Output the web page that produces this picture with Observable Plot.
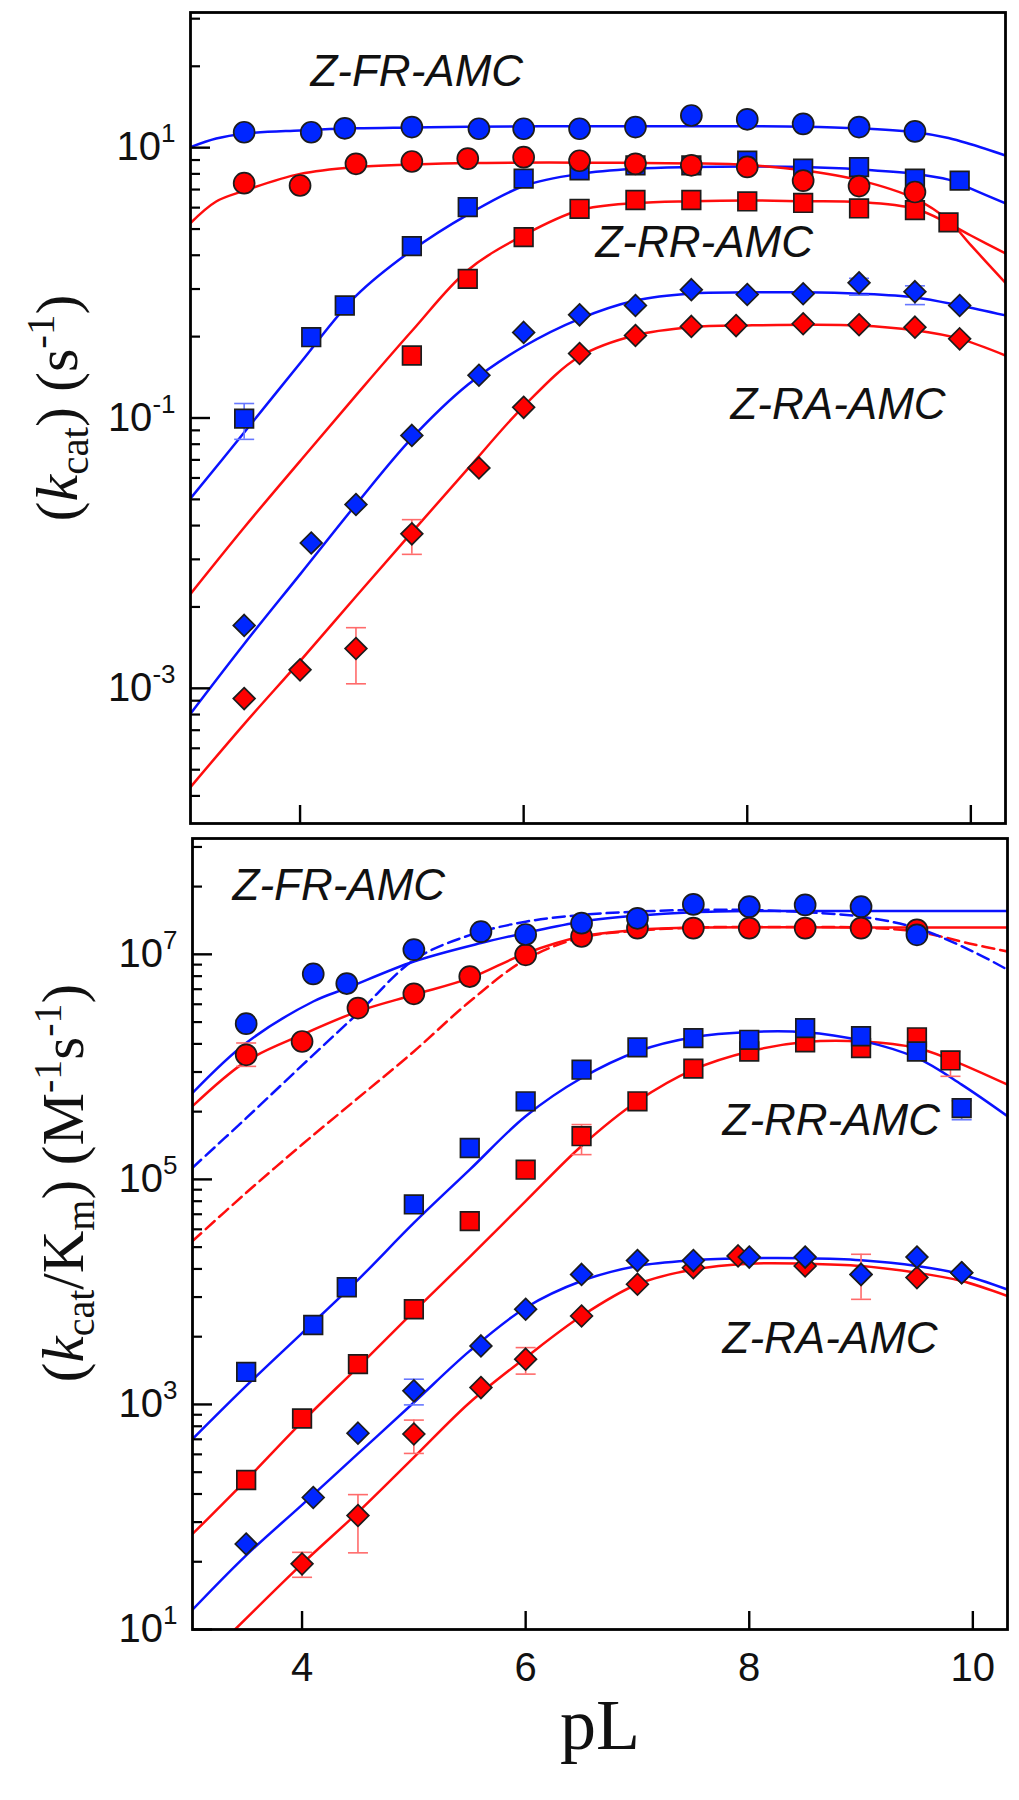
<!DOCTYPE html>
<html><head><meta charset="utf-8">
<script src="https://cdn.jsdelivr.net/npm/d3@7"></script>
<script src="https://cdn.jsdelivr.net/npm/@observablehq/plot@0.6"></script>
<style>
body{margin:0;background:#fff;}
#chart{position:relative;width:1019px;height:1800px;background:#fff;}
#chart svg{position:absolute;left:0;}
</style></head><body><div id="chart"></div>
<script>
// ---------------- DATA ----------------
const pLTicks = [4, 6, 8, 10];
const topMajorTicks = [1e-3, 1e-1, 1e1];
const topTickLabels = ["10^-3", "10^-1", "10^1"];
const topMinorBases = [1e-5, 1e-3, 1e-1, 1e1];
const botMajorTicks = [1e1, 1e3, 1e5, 1e7];
const botTickLabels = ["10^1", "10^3", "10^5", "10^7"];
const botMinorBases = [1e1, 1e3, 1e5, 1e7];
const minorMultipliers = [4, 9, 16, 25, 36, 49, 64, 81];

// Top panel: kcat (s^-1), measured points [pL, value]
const kcatFRblue = [[3.5,13.0],[4.1,13.0],[4.4,13.9],[5.0,14.2],[5.6,13.8],[6.0,13.8],[6.5,13.8],[7.0,14.2],[7.5,17.3],[8.0,16.2],[8.5,15.0],[9.0,14.2],[9.5,13.2]];
const kcatFRred  = [[3.5,5.46],[4.0,5.25],[4.5,7.6],[5.0,7.9],[5.5,8.3],[6.0,8.5],[6.5,8.0],[7.0,7.6],[7.5,7.4],[8.0,7.2],[8.5,5.7],[9.0,5.2],[9.5,4.7]];
const kcatRRblue = [[3.5,0.099],[4.1,0.396],[4.4,0.68],[5.0,1.87],[5.5,3.63],[6.0,5.9],[6.5,6.8],[7.0,7.4],[7.5,7.4],[8.0,8.0],[8.5,7.0],[9.0,7.18],[9.5,5.9],[9.9,5.7]];
const kcatRRred  = [[5.0,0.29],[5.5,1.07],[6.0,2.18],[6.5,3.53],[7.0,4.1],[7.5,4.1],[8.0,4.0],[8.5,3.9],[9.0,3.55],[9.5,3.45],[9.8,2.8]];
const kcatRAblue = [[3.5,0.00292],[4.1,0.0119],[4.5,0.0229],[5.0,0.0743],[5.6,0.207],[6.0,0.43],[6.5,0.58],[7.0,0.68],[7.5,0.89],[8.0,0.82],[8.5,0.83],[9.0,1.0],[9.5,0.86],[9.9,0.68]];
const kcatRAred  = [[3.5,0.00084],[4.0,0.00137],[4.5,0.00197],[5.0,0.0139],[5.6,0.0427],[6.0,0.12],[6.5,0.30],[7.0,0.408],[7.5,0.476],[7.9,0.483],[8.5,0.498],[9.0,0.49],[9.5,0.47],[9.9,0.385]];
// error bars [pL, low, high]
const kcatErrBlue = [[3.5,0.0695,0.128],[9.0,0.81,1.08],[9.5,0.69,0.95]];
const kcatErrRed  = [[4.5,0.00108,0.00281],[5.0,0.0098,0.0177]];
// fitted curves [pL, value]
const kcatFitFRblue = [[3.02,10.1],[3.25,11.7],[3.5,12.7],[4.0,13.4],[4.5,13.9],[5.0,14.1],[5.5,14.3],[6.5,14.4],[7.5,14.4],[8.5,14.3],[9.0,13.9],[9.5,13.0],[9.8,11.8],[10.0,10.6],[10.31,8.75]];
const kcatFitFRred  = [[3.02,2.77],[3.25,4.0],[3.5,4.8],[4.0,6.4],[4.5,7.2],[5.0,7.5],[5.5,7.7],[6.5,7.75],[7.5,7.65],[8.0,7.45],[8.5,6.8],[9.0,5.75],[9.5,4.2],[9.8,2.9],[10.0,1.9],[10.31,1.0]];
const kcatFitRRblue = [[3.02,0.0254],[3.5,0.078],[4.0,0.254],[4.5,0.8],[5.0,1.74],[5.5,3.2],[6.0,5.2],[6.5,6.4],[7.0,6.98],[7.5,7.18],[8.0,7.25],[8.5,7.18],[9.0,6.9],[9.5,6.4],[9.8,5.8],[10.0,4.97],[10.31,3.87]];
const kcatFitRRred  = [[3.02,0.005],[3.5,0.0155],[4.0,0.048],[4.5,0.147],[5.0,0.44],[5.5,1.24],[6.0,2.25],[6.5,3.44],[7.0,3.89],[7.5,4.02],[8.0,4.07],[8.5,4.02],[9.0,3.96],[9.5,3.53],[9.8,2.75],[10.0,2.24],[10.31,1.65]];
const kcatFitRAblue = [[3.02,0.00065],[3.5,0.00213],[4.0,0.00697],[4.5,0.0229],[5.0,0.071],[5.5,0.176],[6.0,0.338],[6.5,0.542],[7.0,0.74],[7.5,0.835],[8.0,0.85],[8.5,0.85],[9.0,0.83],[9.5,0.78],[9.9,0.68],[10.31,0.574]];
const kcatFitRAred  = [[3.02,0.000186],[3.5,0.000544],[4.0,0.00159],[4.5,0.00478],[5.0,0.01426],[5.5,0.042],[6.0,0.122],[6.5,0.285],[7.0,0.41],[7.5,0.47],[8.0,0.484],[9.0,0.484],[9.5,0.445],[9.9,0.385],[10.31,0.29]];

// Bottom panel: kcat/Km (M^-1 s^-1)
const effFRblue = [[3.5,2.42e6],[4.1,6.7e6],[4.4,5.5e6],[5.0,1.1e7],[5.6,1.59e7],[6.0,1.5e7],[6.5,1.89e7],[7.0,2.09e7],[7.5,2.78e7],[8.0,2.65e7],[8.5,2.75e7],[9.0,2.65e7],[9.5,1.49e7]];
const effFRred  = [[3.5,1.28e6],[4.0,1.68e6],[4.5,3.33e6],[5.0,4.46e6],[5.5,6.35e6],[6.0,9.9e6],[6.5,1.44e7],[7.0,1.71e7],[7.5,1.71e7],[8.0,1.71e7],[8.5,1.71e7],[9.0,1.71e7],[9.5,1.65e7]];
const effRRblue = [[3.5,1945],[4.1,5080],[4.4,1.1e4],[5.0,5.99e4],[5.5,1.9e5],[6.0,4.94e5],[6.5,9.44e5],[7.0,1.49e6],[7.5,1.8e6],[8.0,1.74e6],[8.5,2.21e6],[9.0,1.87e6],[9.5,1.37e6],[9.9,4.3e5]];
const effRRred  = [[3.5,213],[4.0,750],[4.5,2280],[5.0,7010],[5.5,4.26e4],[6.0,1.22e5],[6.5,2.42e5],[7.0,4.94e5],[7.5,9.64e5],[8.0,1.37e6],[8.5,1.65e6],[9.0,1.47e6],[9.5,1.83e6],[9.8,1.14e6]];
const effRAblue = [[3.5,57.5],[4.1,149],[4.5,556],[5.0,1321],[5.6,3310],[6.0,7020],[6.5,1.43e4],[7.0,1.9e4],[7.5,1.9e4],[8.0,2.04e4],[8.5,2.04e4],[9.0,1.43e4],[9.5,2.04e4],[9.9,1.48e4]];
const effRAred  = [[4.0,38.3],[4.5,103],[5.0,546],[5.6,1412],[6.0,2525],[6.5,6110],[7.0,1.17e4],[7.5,1.64e4],[7.9,2.09e4],[8.5,1.7e4],[9.0,1.43e4],[9.5,1.34e4],[9.9,1.48e4]];
const effErrBlue = [[9.9,3.39e5,5.0e5],[5.0,991,1676]];
const effErrRed  = [[3.5,1.01e6,1.63e6],[6.5,1.66e5,3.07e5],[9.8,8.24e5,1.37e6],[4.0,29.1,48.5],[4.5,48,158],[5.0,367,726],[6.0,1860,3200],[9.0,8590,2.16e4]];
const effFitFRblue = [[3.02,5.86e5],[3.5,1.63e6],[4.1,3.81e6],[4.4,5.0e6],[5.0,8.63e6],[5.6,1.26e7],[6.0,1.55e7],[6.5,1.95e7],[7.0,2.21e7],[7.5,2.37e7],[8.0,2.43e7],[9.0,2.43e7],[10.31,2.43e7]];
const effFitFRblueDash = [[3.02,1.27e5],[3.5,3.5e5],[4.0,1.03e6],[4.5,3.0e6],[5.0,8.9e6],[5.5,1.48e7],[6.0,1.95e7],[6.5,2.24e7],[7.0,2.4e7],[7.5,2.48e7],[8.0,2.48e7],[8.5,2.37e7],[9.0,2.16e7],[9.5,1.71e7],[10.0,1.06e7],[10.31,7.3e6]];
const effFitFRred = [[3.02,4.47e5],[3.5,1.12e6],[4.0,1.93e6],[4.5,3.11e6],[5.0,4.37e6],[5.5,6.14e6],[6.0,1.02e7],[6.5,1.44e7],[7.0,1.65e7],[7.5,1.73e7],[9.0,1.73e7],[10.31,1.73e7]];
const effFitFRredDash = [[3.02,2.83e4],[3.5,7.6e4],[4.0,2.04e5],[4.5,5.28e5],[5.0,1.37e6],[5.5,3.81e6],[6.0,9.0e6],[6.5,1.41e7],[7.0,1.62e7],[7.5,1.73e7],[8.0,1.75e7],[8.5,1.75e7],[9.0,1.73e7],[9.5,1.59e7],[10.0,1.23e7],[10.31,1.06e7]];
const effFitRRblue = [[3.02,492],[3.5,1460],[4.0,4310],[4.5,1.28e4],[5.0,4.1e4],[5.5,1.22e5],[6.0,3.64e5],[6.5,7.96e5],[7.0,1.37e6],[7.5,1.83e6],[8.0,2.04e6],[8.5,2.03e6],[9.0,1.71e6],[9.5,1.2e6],[9.9,6.95e5],[10.31,3.64e5]];
const effFitRRred = [[3.02,70.6],[3.5,213],[4.0,700],[4.5,2150],[5.0,6700],[5.5,2.05e4],[6.0,6.4e4],[6.5,1.98e5],[7.0,4.94e5],[7.5,9.44e5],[8.0,1.37e6],[8.5,1.66e6],[9.0,1.68e6],[9.5,1.47e6],[9.8,1.16e6],[10.31,6.95e5]];
const effFitRAblue = [[3.02,15],[3.5,45.6],[4.0,128],[4.5,365],[5.0,1040],[5.5,2990],[6.0,7240],[6.5,1.25e4],[7.0,1.7e4],[7.5,1.91e4],[8.0,1.99e4],[8.5,1.99e4],[9.0,1.91e4],[9.5,1.7e4],[9.9,1.43e4],[10.31,1.05e4]];
const effFitRAred = [[3.4,10],[4.0,38.3],[4.5,110],[5.0,338],[5.5,1040],[6.0,2610],[6.5,6110],[7.0,1.17e4],[7.5,1.58e4],[8.0,1.78e4],[8.5,1.78e4],[9.0,1.7e4],[9.5,1.48e4],[9.9,1.25e4],[10.31,9200]];

// annotations [text, pL, value]
const topAnnotations = [["Z-FR-AMC",4.093,28.8],["Z-RR-AMC",6.642,1.54],["Z-RA-AMC",7.85,0.0991]];
const botAnnotations = [["Z-FR-AMC",3.378,3.01e7],["Z-RR-AMC",7.761,2.46e5],["Z-RA-AMC",7.761,2838]];
const topTitle = "(kcat) (s-1)";
const botTitle = "(kcat/Km) (M-1s-1)";
const xTitle = "pL";

// ---------------- STYLE ----------------
const W = 1019;
const BLUE = "#0026ff", RED = "#ff0000";
const BLUE_LINE = "#0a12ff", RED_LINE = "#ff0d0d";
const BLUE_ERR = "#6677ff", RED_ERR = "#ff6b6b";
const SANS = "Liberation Sans, Arial, Helvetica, sans-serif";
const SERIF = "Liberation Serif, Times New Roman, serif";
const R = {circle: 10.5, square: 10.5, diamond2: 9.8};
const CAP = {draw(ctx, size) { const w = Math.sqrt(size / Math.PI); ctx.moveTo(-w, 0); ctx.lineTo(w, 0); }};
const X_DOMAIN = [3.02, 10.31];

function buildPanel(cfg) {
  const fw = W - cfg.ml - cfg.mr;
  const fh = cfg.h - cfg.mt - cfg.mb;
  const minors = cfg.minorBases.flatMap(b => minorMultipliers.map(m => b * m))
    .filter(v => v > cfg.yDomain[0] * 1.0001 && v < cfg.yDomain[1]);
  const marks = [];
  for (const c of cfg.curves) {
    marks.push(Plot.line(c.data, {x: d => d[0], y: d => d[1], stroke: c.color, strokeWidth: 2.5,
      strokeDasharray: c.dash || null, curve: "catmull-rom", clip: true}));
  }
  for (const e of cfg.errors) {
    marks.push(Plot.ruleX(e.data, {x: d => d[0], y1: d => d[1], y2: d => d[2], stroke: e.color, strokeWidth: 1.6}));
    marks.push(Plot.dot(e.data, {x: d => d[0], y: d => d[1], symbol: CAP, r: 10, stroke: e.color, strokeWidth: 1.6, fill: "none"}));
    marks.push(Plot.dot(e.data, {x: d => d[0], y: d => d[2], symbol: CAP, r: 10, stroke: e.color, strokeWidth: 1.6, fill: "none"}));
  }
  for (const p of cfg.points) {
    marks.push(Plot.dot(p.data, {x: d => d[0], y: d => d[1], symbol: p.symbol, r: R[p.symbol],
      fill: p.color, stroke: "#1c1c1c", strokeWidth: 1.7}));
  }
  marks.push(Plot.tickY(cfg.majors, {y: d => d, insetRight: fw - 20, stroke: "#000", strokeWidth: 2.4}));
  marks.push(Plot.tickY(minors, {y: d => d, insetRight: fw - 10, stroke: "#000", strokeWidth: 2.2}));
  marks.push(Plot.tickX(pLTicks, {x: d => d, insetTop: fh - 18, stroke: "#000", strokeWidth: 2.4}));
  marks.push(Plot.frame({stroke: "#000", strokeWidth: 2.8}));
  marks.push(Plot.text(cfg.majors, {y: d => d, text: (d, i) => cfg.tickLabels[i], frameAnchor: "left", dx: -15,
    textAnchor: "end", fontSize: 40, fontFamily: SANS, fill: "#111"}));
  for (const a of cfg.annotations) {
    marks.push(Plot.text([a], {x: d => d[1], y: d => d[2], text: d => d[0], textAnchor: "start", lineAnchor: "bottom",
      fontSize: 44, fontStyle: "italic", fontFamily: SANS, fill: "#111"}));
  }
  marks.push(Plot.text([cfg.title], {text: d => d, frameAnchor: "left", rotate: -90, dx: cfg.titleDx, dy: cfg.titleDy,
    lineAnchor: "bottom", textAnchor: "middle", fontSize: cfg.titleSize, fontFamily: SERIF, fill: "#111"}));
  if (cfg.xLabels) {
    marks.push(Plot.text(pLTicks, {x: d => d, text: d => String(d), frameAnchor: "bottom", dy: 51, lineAnchor: "bottom",
      fontSize: 40, fontFamily: SANS, fill: "#111"}));
    marks.push(Plot.text([xTitle], {text: d => d, frameAnchor: "bottom", dy: 119, lineAnchor: "bottom",
      fontSize: 72, fontFamily: SERIF, fill: "#111"}));
  }
  return Plot.plot({
    width: W, height: cfg.h,
    marginTop: cfg.mt, marginBottom: cfg.mb, marginLeft: cfg.ml, marginRight: cfg.mr,
    style: {background: "transparent", overflow: "visible"},
    x: {domain: X_DOMAIN, axis: null},
    y: {type: "log", domain: cfg.yDomain, axis: null},
    marks
  });
}

const NS = "http://www.w3.org/2000/svg";
function tspan(parent, txt, attrs) {
  const t = document.createElementNS(NS, "tspan");
  t.textContent = txt;
  for (const k in attrs) t.setAttribute(k, attrs[k]);
  parent.appendChild(t);
  return t;
}
function postProcess(svg) {
  svg.querySelectorAll("text").forEach(t => {
    const s = t.textContent;
    const m = /^10\^(-?\d+)$/.exec(s);
    if (m) {
      t.textContent = "";
      tspan(t, "10", {});
      tspan(t, m[1], {dy: "-18", "font-size": "26"});
    }
  });
}
function richTitle(svg, key, parts, size) {
  svg.querySelectorAll("text").forEach(t => {
    if (t.textContent !== key) return;
    t.textContent = "";
    let off = 0;
    for (const [txt, kind] of parts) {
      let target = 0, attrs = {};
      if (kind === "sub") { target = Math.round(size * 0.18); attrs["font-size"] = String(Math.round(size * 0.68)); }
      if (kind === "sup") { target = -Math.round(size * 0.38); attrs["font-size"] = String(Math.round(size * 0.68)); }
      if (kind === "i") attrs["font-style"] = "italic";
      if (target !== off) { attrs.dy = String(target - off); off = target; }
      tspan(t, txt, attrs);
    }
  });
}

const topPlot = buildPanel({
  h: 826, mt: 12, mb: 3, ml: 190, mr: 14, yDomain: [1e-4, 1e2],
  majors: topMajorTicks, tickLabels: topTickLabels, minorBases: topMinorBases,
  curves: [
    {data: kcatFitRAred, color: RED_LINE}, {data: kcatFitRAblue, color: BLUE_LINE},
    {data: kcatFitRRred, color: RED_LINE}, {data: kcatFitRRblue, color: BLUE_LINE},
    {data: kcatFitFRred, color: RED_LINE}, {data: kcatFitFRblue, color: BLUE_LINE}
  ],
  errors: [{data: kcatErrRed, color: RED_ERR}, {data: kcatErrBlue, color: BLUE_ERR}],
  points: [
    {data: kcatRRred, color: RED, symbol: "square"}, {data: kcatRRblue, color: BLUE, symbol: "square"},
    {data: kcatRAred, color: RED, symbol: "diamond2"}, {data: kcatRAblue, color: BLUE, symbol: "diamond2"},
    {data: kcatFRred, color: RED, symbol: "circle"}, {data: kcatFRblue, color: BLUE, symbol: "circle"}
  ],
  annotations: topAnnotations, title: topTitle, titleSize: 60, titleDx: -114, titleDy: -10, xLabels: false
});
const botPlot = buildPanel({
  h: 977, mt: 15, mb: 171, ml: 192, mr: 12, yDomain: [1e1, 1.07e8],
  majors: botMajorTicks, tickLabels: botTickLabels, minorBases: botMinorBases,
  curves: [
    {data: effFitRAred, color: RED_LINE}, {data: effFitRAblue, color: BLUE_LINE},
    {data: effFitRRred, color: RED_LINE}, {data: effFitRRblue, color: BLUE_LINE},
    {data: effFitFRredDash, color: RED_LINE, dash: "12,6"}, {data: effFitFRblueDash, color: BLUE_LINE, dash: "12,6"},
    {data: effFitFRred, color: RED_LINE}, {data: effFitFRblue, color: BLUE_LINE}
  ],
  errors: [{data: effErrRed, color: RED_ERR}, {data: effErrBlue, color: BLUE_ERR}],
  points: [
    {data: effRRred, color: RED, symbol: "square"}, {data: effRRblue, color: BLUE, symbol: "square"},
    {data: effRAred, color: RED, symbol: "diamond2"}, {data: effRAblue, color: BLUE, symbol: "diamond2"},
    {data: effFRred, color: RED, symbol: "circle"}, {data: effFRblue, color: BLUE, symbol: "circle"}
  ],
  annotations: botAnnotations, title: botTitle, titleSize: 59, titleDx: -110, titleDy: -51, xLabels: true
});
topPlot.style.top = "0px";
botPlot.style.top = "823px";
const chartDiv = document.getElementById("chart");
chartDiv.appendChild(topPlot);
chartDiv.appendChild(botPlot);
postProcess(topPlot); postProcess(botPlot);
richTitle(topPlot, topTitle, [["(", ""], ["k", "i"], ["cat", "sub"], [")", ""], [" (s", ""], ["-1", "sup"], [")", ""]], 60);
richTitle(botPlot, botTitle, [["(", ""], ["k", "i"], ["cat", "sub"], ["/K", ""], ["m", "sub"], [") (M", ""], ["-1", "sup"], ["s", ""], ["-1", "sup"], [")", ""]], 59);
</script></body></html>
